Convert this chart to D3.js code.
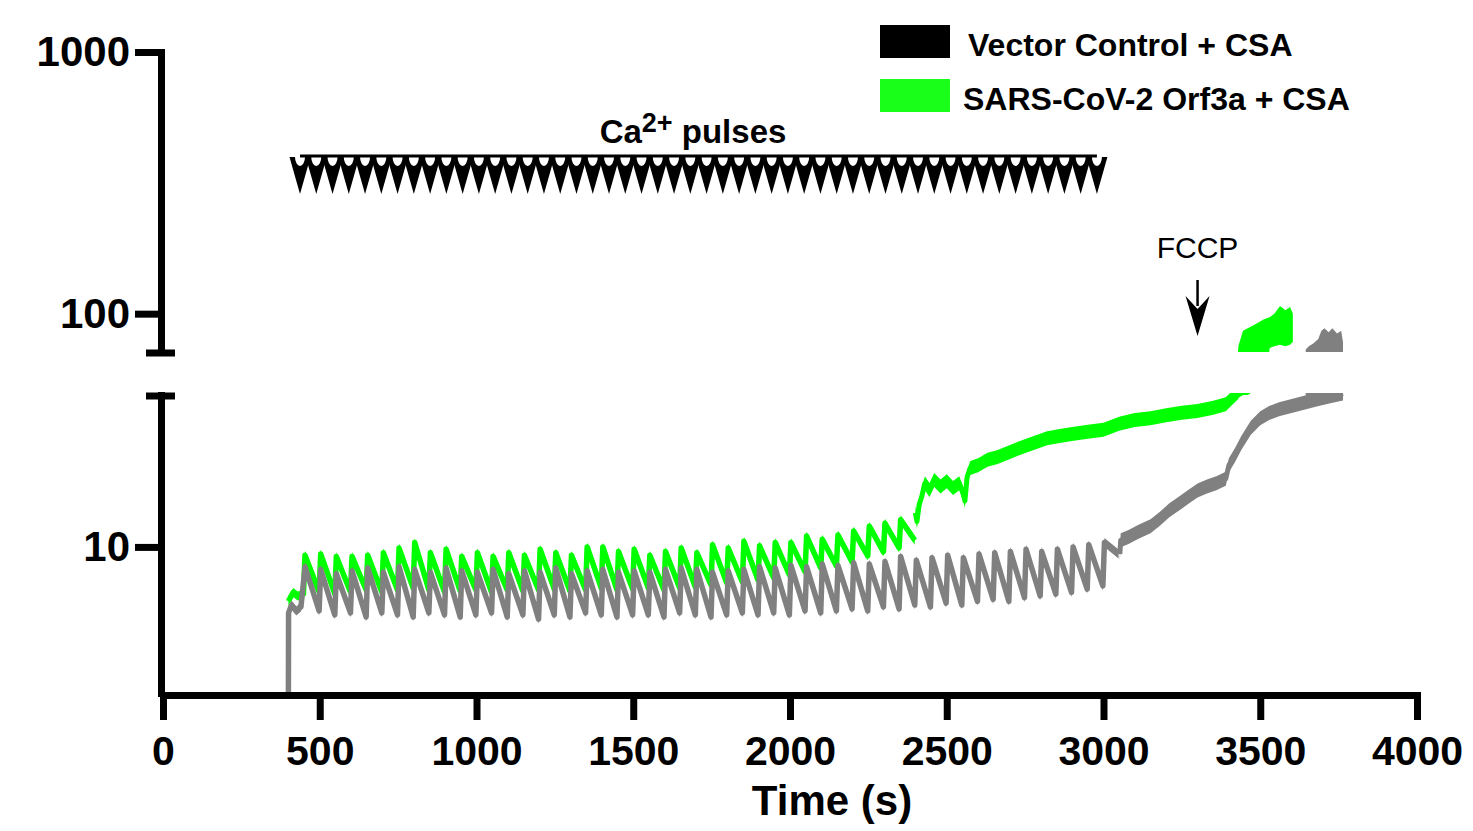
<!DOCTYPE html>
<html><head><meta charset="utf-8">
<script src="https://cdn.jsdelivr.net/npm/d3@7"></script>
<style>body{margin:0;background:#fff} svg{display:block}</style>
</head><body>
<svg id="c" width="1473" height="831"></svg>
<script>
// ---------------- DATA ----------------
const seriesNames = ["Vector Control + CSA", "SARS-CoV-2 Orf3a + CSA"];
const xTicks = [0, 500, 1000, 1500, 2000, 2500, 3000, 3500, 4000];
const yTicksUpper = [100, 1000];
const yTicksLower = [10];

// Ca2+ pulse times (s)
const pulseTimes = [450, 500, 550, 600, 650, 700, 750, 800, 850, 900, 950, 1000, 1050, 1100, 1150, 1200,
  1250, 1300, 1350, 1400, 1450, 1500, 1550, 1600, 1650, 1700, 1750, 1800, 1850, 1900, 1950, 2000,
  2050, 2100, 2150, 2200, 2250, 2300, 2350, 2400, 2450, 2500, 2550, 2600, 2650, 2700, 2750, 2800,
  2850, 2900, 2950, 3000];

// SARS-CoV-2 Orf3a + CSA (green)
const greenPreT = [400, 415, 430, 448];
const greenPreV = [6.2, 6.7, 6.5, 6.6];
const greenPeaks = [9.3, 9.4, 9.2, 9.2, 9.3, 9.5, 9.9, 10.4, 9.5, 9.8, 9.2, 9.5, 9.2, 9.5, 9.3, 9.8,
  9.5, 9.3, 10.0, 10.0, 9.6, 9.8, 9.3, 9.6, 9.9, 9.5, 10.2, 9.9, 10.5, 10.1, 10.4, 10.4,
  11.0, 10.7, 11.1, 11.5, 12.0, 12.3, 12.7];
const greenTroughs = [6.73, 6.62, 6.73, 6.85, 6.73, 6.85, 6.97, 6.85, 6.73, 6.79, 6.85, 6.73, 6.85, 6.79,
  6.85, 6.91, 6.79, 6.85, 6.97, 6.85, 6.91, 6.97, 6.85, 6.97, 7.03, 7.16, 7.29, 7.35, 7.48, 7.62,
  7.82, 8.03, 8.31, 8.46, 8.77, 9.24, 9.57, 9.91, 10.6];
const greenTailT = [2400, 2405, 2412, 2420, 2430, 2445, 2460, 2480, 2500, 2520, 2540, 2552, 2558, 2565,
  2575, 2600, 2630, 2660, 2700, 2740, 2780, 2820, 2860, 2900, 2950, 3000, 3050, 3100, 3150, 3200,
  3250, 3300, 3350, 3390, 3410, 3430];
const greenTailV = [13.5, 12.5, 14.5, 15.5, 17.5, 16.5, 18.0, 17.0, 17.8, 16.8, 17.5, 16.0, 15.0, 18.5,
  20.0, 20.5, 21.5, 22.0, 23.0, 24.0, 25.0, 26.0, 26.5, 27.0, 27.5, 28.0, 29.5, 30.5, 31.0, 31.8,
  32.5, 33.0, 34.0, 35.0, 37.0, 39.0];
const greenLateT = [3420, 3430, 3445, 3460, 3475, 3490, 3510, 3530, 3545, 3563, 3580, 3595, 3604];
const greenLateLo = [36, 37, 38, 38, 39, 39, 40, 74, 75, 76, 75, 76, 78];
const greenLateHi = [45, 75, 86, 88, 90, 92, 95, 97, 100, 107, 103, 106, 100];

// Vector Control + CSA (gray)
const grayPreT = [400, 400.5, 410, 425, 440];
const grayPreV = [2.6, 5.6, 6.0, 5.7, 5.9];
const grayPeaks = [8.4, 8.2, 7.9, 8.1, 8.3, 8.0, 8.4, 8.2, 8.0, 8.3, 8.1, 8.0, 8.2, 7.9, 8.1, 8.0,
  8.3, 7.9, 8.1, 8.2, 8.0, 8.1, 8.0, 8.2, 8.3, 8.2, 8.0, 8.1, 8.2, 8.4, 8.3, 8.5, 8.4, 8.6,
  8.5, 8.7, 8.6, 8.8, 9.2, 8.9, 9.1, 9.3, 9.1, 9.4, 9.5, 9.6, 9.8, 9.6, 9.8, 10.0, 10.2, 10.4];
const grayTroughs = [5.7, 5.5, 5.6, 5.4, 5.6, 5.5, 5.4, 5.6, 5.5, 5.4, 5.5, 5.6, 5.4, 5.5, 5.3, 5.5,
  5.4, 5.6, 5.5, 5.4, 5.5, 5.5, 5.4, 5.6, 5.5, 5.4, 5.5, 5.6, 5.5, 5.6, 5.5, 5.7, 5.6, 5.7,
  5.8, 5.7, 5.9, 5.8, 6.0, 5.9, 6.1, 6.0, 6.2, 6.3, 6.2, 6.4, 6.5, 6.6, 6.7, 6.9, 7.1, 9.4];
const grayTailT = [3052, 3055, 3080, 3110, 3150, 3180, 3210, 3240, 3270, 3300, 3330, 3360, 3390, 3400, 3420,
  3440, 3470, 3500, 3530, 3560, 3600, 3640, 3680, 3720, 3764];
const grayTailV = [9.4, 10.6, 10.9, 11.4, 12.0, 12.8, 13.8, 14.6, 15.5, 16.4, 17.0, 17.5, 18.2, 20.5, 22.5,
  25.0, 28.5, 31.0, 32.5, 33.5, 34.5, 35.5, 36.5, 37.5, 38.5];
const grayLateT = [3645, 3655, 3670, 3685, 3695, 3705, 3718, 3730, 3745, 3758, 3764];
const grayLateLo = [35, 35, 35.5, 36, 36, 36.5, 37, 37, 37.5, 38, 38];
const grayLateHi = [73, 75, 77, 80, 86, 88, 85, 88, 84, 86, 78];

// annotations
const pulseMarkStart = 437, pulseMarkEnd = 2979, pulseMarkCount = 50;
const fccpTime = 3300;

// ---------------- BUILD ----------------
function sawtooth(preT, preV, times, peaks, troughs) {
  const pts = preT.map((t, i) => [t, preV[i]]);
  peaks.forEach((p, i) => {
    const t = times[i];
    pts.push([t + 3, p]);
    pts.push([t + 48, troughs[i]]);
  });
  return pts;
}
const greenSaw = sawtooth(greenPreT, greenPreV, pulseTimes, greenPeaks, greenTroughs);
const graySaw = sawtooth(grayPreT, grayPreV, pulseTimes, grayPeaks, grayTroughs);
const greenTail = greenTailT.map((t, i) => [t, greenTailV[i]]);
const grayTail = grayTailT.map((t, i) => [t, grayTailV[i]]);
const greenLate = greenLateT.map((t, i) => ({t, lo: greenLateLo[i], hi: greenLateHi[i]}));
const grayLate = grayLateT.map((t, i) => ({t, lo: grayLateLo[i], hi: grayLateHi[i]}));

const svg = d3.select("#c");
const FONT = "'Liberation Sans', Arial, Helvetica, sans-serif";
const GREEN = "#00ff00", GRAY = "#808080";

const x = d3.scaleLinear().domain([0, 4000]).range([163, 1417]);
const yLow = d3.scaleLog().domain([2.77, 38]).range([693, 395]);
const yUp = d3.scaleLog().domain([72, 1000]).range([351, 52]);

const defs = svg.append("defs");
defs.append("clipPath").attr("id", "clipLow").append("rect")
  .attr("x", 163).attr("y", 393).attr("width", 1300).attr("height", 300);
defs.append("clipPath").attr("id", "clipUp").append("rect")
  .attr("x", 163).attr("y", 0).attr("width", 1300).attr("height", 352);

function band(g, y, pts, half, sw, color) {
  const a = d3.area().x(d => x(d[0])).y0(d => y(d[1]) + half).y1(d => y(d[1]) - half);
  g.append("path").attr("d", a(pts)).attr("fill", color);
  g.append("path").attr("d", d3.line().x(d => x(d[0])).y(d => y(d[1]))(pts))
    .attr("fill", "none").attr("stroke", color).attr("stroke-width", sw).attr("stroke-linejoin", "round");
}
function drawSeries(g, y, saw, tail, late, color) {
  band(g, y, saw, 4.5, 5.5, color);
  band(g, y, tail, 7, 5, color);
  const lateArea = d3.area().x(d => x(d.t)).y0(d => y(d.lo)).y1(d => y(d.hi));
  g.append("path").attr("d", lateArea(late)).attr("fill", color);
}
[["clipLow", yLow], ["clipUp", yUp]].forEach(([clip, y]) => {
  const g = svg.append("g").attr("clip-path", `url(#${clip})`);
  drawSeries(g, y, greenSaw, greenTail, greenLate, GREEN);
  drawSeries(g, y, graySaw, grayTail, grayLate, GRAY);
});
// initial gray step at t = 400 (thin vertical)
svg.append("line").attr("clip-path", "url(#clipLow)")
  .attr("x1", x(grayPreT[0])).attr("x2", x(grayPreT[0]))
  .attr("y1", yLow(grayPreV[0])).attr("y2", yLow(grayPreV[1]))
  .attr("stroke", GRAY).attr("stroke-width", 3);

// ---------------- AXES ----------------
function styleAxis(g, fs) {
  g.select(".domain").attr("stroke", "#000").attr("stroke-width", 7).attr("stroke-linecap", "square");
  g.selectAll(".tick line").attr("stroke", "#000").attr("stroke-width", 7);
  g.selectAll(".tick text").attr("fill", "#000").attr("font-family", FONT)
    .attr("font-weight", "bold").attr("font-size", fs);
}
const AX = 161;
const gUp = svg.append("g").attr("transform", `translate(${AX},0)`)
  .call(d3.axisLeft(yUp).tickValues(yTicksUpper).tickFormat(d3.format("d")).tickSize(26).tickSizeOuter(0).tickPadding(5));
styleAxis(gUp, 42);
const gLow = svg.append("g").attr("transform", `translate(${AX},0)`)
  .call(d3.axisLeft(yLow).tickValues(yTicksLower).tickFormat(d3.format("d")).tickSize(26).tickSizeOuter(0).tickPadding(5));
styleAxis(gLow, 42);
// break caps
svg.append("line").attr("x1", 146).attr("x2", 175).attr("y1", 353).attr("y2", 353)
  .attr("stroke", "#000").attr("stroke-width", 7);
svg.append("line").attr("x1", 146).attr("x2", 175).attr("y1", 396).attr("y2", 396)
  .attr("stroke", "#000").attr("stroke-width", 7);

const gX = svg.append("g").attr("transform", "translate(0,695)")
  .call(d3.axisBottom(x).tickValues(xTicks).tickFormat(d3.format("d")).tickSize(25).tickSizeOuter(0));
styleAxis(gX, 41);
gX.selectAll(".tick text").attr("y", 70).attr("dy", null);

svg.append("text").attr("x", 832).attr("y", 815).attr("text-anchor", "middle")
  .attr("font-family", FONT).attr("font-weight", "bold").attr("font-size", 42).text("Time (s)");

// ---------------- ANNOTATIONS ----------------
const markTimes = d3.range(pulseMarkCount).map(i => pulseMarkStart + i * (pulseMarkEnd - pulseMarkStart) / (pulseMarkCount - 1));
svg.append("line").attr("x1", x(pulseMarkStart)).attr("x2", x(pulseMarkEnd)).attr("y1", 156).attr("y2", 156)
  .attr("stroke", "#000").attr("stroke-width", 3);
svg.append("g").selectAll("path").data(markTimes).join("path")
  .attr("d", t => {
    const cx = x(t), w = 10.5, r = 5;
    return `M${cx - w},157 L${cx},194 L${cx + w},157 L${cx + r},157 A${r},${r + 4} 0 0 1 ${cx - r},157 Z`;
  })
  .attr("fill", "#000");
const ca = svg.append("text").attr("x", 693).attr("y", 143).attr("text-anchor", "middle")
  .attr("font-family", FONT).attr("font-weight", "bold").attr("font-size", 33);
ca.append("tspan").text("Ca");
ca.append("tspan").attr("font-size", 27).attr("dy", -11).text("2+");
ca.append("tspan").attr("dy", 11).text(" pulses");

// FCCP
const fx = x(fccpTime);
svg.append("text").attr("x", fx).attr("y", 258).attr("text-anchor", "middle")
  .attr("font-family", FONT).attr("font-size", 30).text("FCCP");
svg.append("line").attr("x1", fx).attr("x2", fx).attr("y1", 280).attr("y2", 306)
  .attr("stroke", "#000").attr("stroke-width", 2.5);
svg.append("path").attr("d", `M${fx - 12},296 L${fx},336 L${fx + 12},296 L${fx},309 Z`).attr("fill", "#000");

// ---------------- LEGEND ----------------
const legColors = ["#000000", "#1aff1a"];
const legY = [25, 79];
const legTextX = [968, 963];
const legBase = [56, 110];
seriesNames.forEach((n, i) => {
  svg.append("rect").attr("x", 880).attr("y", legY[i]).attr("width", 70).attr("height", 33).attr("fill", legColors[i]);
  svg.append("text").attr("x", legTextX[i]).attr("y", legBase[i]).attr("font-family", FONT)
    .attr("font-weight", "bold").attr("font-size", 32).text(n);
});
</script>
</body></html>
